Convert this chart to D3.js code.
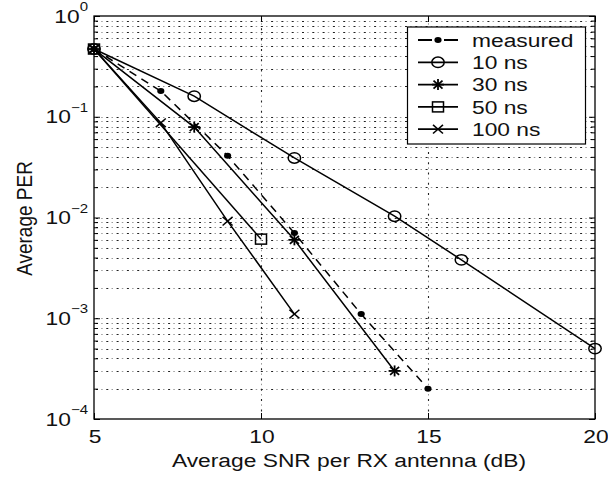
<!DOCTYPE html>
<html>
<head>
<meta charset="utf-8">
<script src="https://cdn.jsdelivr.net/npm/d3@7"></script>
<style>
  html, body { margin: 0; padding: 0; background: #fff; }
  svg { display: block; }
  text { font-family: "Liberation Sans", Arial, Helvetica, sans-serif; fill: #111; }
</style>
</head>
<body>
<svg id="chart" width="608" height="481"></svg>
<script>
// Packet error rate vs. per-antenna SNR, measured and simulated (delay spreads)
const snrTicks = [5, 10, 15, 20];
const perTickExponents = [-4, -3, -2, -1, 0];
const seriesNames = ["measured", "10 ns", "30 ns", "50 ns", "100 ns"];

const measuredSNR = [5, 7, 9, 11, 13, 15];
const measuredPER = [0.47, 0.18, 0.041, 0.0070, 0.0011, 0.0002];
const snr10ns = [5, 8, 11, 14, 16, 20];
const per10ns = [0.47, 0.16, 0.039, 0.0103, 0.0038, 0.0005];
const snr30ns = [5, 8, 11, 14];
const per30ns = [0.47, 0.079, 0.006, 0.0003];
const snr50ns = [5, 10];
const per50ns = [0.47, 0.0061];
const snr100ns = [5, 7, 9, 11];
const per100ns = [0.47, 0.087, 0.0092, 0.0011];

const series = [
  { name: seriesNames[0], snr: measuredSNR, per: measuredPER, marker: "dot", dashed: true },
  { name: seriesNames[1], snr: snr10ns, per: per10ns, marker: "circle" },
  { name: seriesNames[2], snr: snr30ns, per: per30ns, marker: "star" },
  { name: seriesNames[3], snr: snr50ns, per: per50ns, marker: "square" },
  { name: seriesNames[4], snr: snr100ns, per: per100ns, marker: "cross" }
];

const FS = 19;        // base font size
const SX = 1.2;       // horizontal glyph stretch
const L = 94, R = 595, T = 16, B = 419;

const svg = d3.select("#chart");
const x = d3.scaleLinear().domain([5, 20]).range([L, R]);
const y = d3.scaleLog().domain([1e-4, 1]).range([B, T]);

// dotted grid: dark dots with fainter ones in between
const minorVals = [];
for (let e = -4; e < 0; e++) for (let m = 1; m <= 9; m++) {
  const v = m * Math.pow(10, e);
  if (v > 1e-4 && v < 1) minorVals.push(v);
}
const vGrid = snrTicks.filter(d => d > 5 && d < 20);
function gridLayer(color, dash, offset, width) {
  const g = svg.append("g").attr("stroke", color).attr("stroke-width", width)
    .attr("stroke-dasharray", dash).attr("stroke-dashoffset", offset).attr("fill", "none");
  g.selectAll("line.h").data(minorVals).join("line").attr("class", "h")
    .attr("x1", L).attr("x2", R)
    .attr("y1", d => Math.round(y(d)) + 0.5).attr("y2", d => Math.round(y(d)) + 0.5);
  g.selectAll("line.v").data(vGrid).join("line").attr("class", "v")
    .attr("y1", T).attr("y2", B)
    .attr("x1", d => Math.round(x(d)) + 0.5).attr("x2", d => Math.round(x(d)) + 0.5);
}
gridLayer("#222", "2,8.3", -2, 1.1);
gridLayer("#9a9a9a", "1.5,8.8", -7.2, 1);

// inward ticks on all four sides
const majorY = perTickExponents.map(e => Math.pow(10, e));
function tickAxis(gen, tx, ty) {
  const g = svg.append("g").attr("transform", `translate(${tx},${ty})`).call(gen);
  g.select(".domain").remove();
  g.selectAll("text").remove();
  g.selectAll("line").attr("stroke", "#000").attr("stroke-width", 1);
}
tickAxis(d3.axisLeft(y).tickValues(minorVals.filter(v => !majorY.includes(v))).tickSize(-4), L, 0);
tickAxis(d3.axisLeft(y).tickValues(majorY).tickSize(-6), L, 0);
tickAxis(d3.axisRight(y).tickValues(minorVals.filter(v => !majorY.includes(v))).tickSize(-4), R, 0);
tickAxis(d3.axisRight(y).tickValues(majorY).tickSize(-6), R, 0);
tickAxis(d3.axisBottom(x).tickValues(snrTicks).tickSize(-6), 0, B);
tickAxis(d3.axisTop(x).tickValues(snrTicks).tickSize(-6), 0, T);

// series lines
const line = d3.line().x(d => x(d[0])).y(d => y(d[1]));
const plot = svg.append("g");
series.forEach(s => {
  plot.append("path")
    .datum(s.snr.map((v, i) => [v, s.per[i]]))
    .attr("d", line)
    .attr("fill", "none").attr("stroke", "#000").attr("stroke-width", 1.5)
    .attr("stroke-dasharray", s.dashed ? "8,6" : null);
});

// marker shapes
function drawMarker(g, type, cx, cy) {
  const m = g.append("g").attr("transform", `translate(${cx},${cy})`)
    .attr("stroke", "#000").attr("fill", "none").attr("stroke-width", 1.5);
  if (type === "dot") {
    m.append("ellipse").attr("rx", 3.6).attr("ry", 3).attr("fill", "#000").attr("stroke", "none");
  } else if (type === "circle") {
    m.append("ellipse").attr("rx", 6.2).attr("ry", 5.2).attr("fill", "none");
  } else if (type === "square") {
    m.append("rect").attr("x", -5.5).attr("y", -5).attr("width", 11).attr("height", 10);
  } else if (type === "star") {
    m.attr("stroke-width", 1.8);
    [[0, -5.5, 0, 5.5], [-6, 0, 6, 0], [-4.5, -4, 4.5, 4], [-4.5, 4, 4.5, -4]].forEach(p =>
      m.append("line").attr("x1", p[0]).attr("y1", p[1]).attr("x2", p[2]).attr("y2", p[3]));
  } else if (type === "cross") {
    [[-5, -4.3, 5, 4.3], [-5, 4.3, 5, -4.3]].forEach(p =>
      m.append("line").attr("x1", p[0]).attr("y1", p[1]).attr("x2", p[2]).attr("y2", p[3]));
  }
}
series.forEach(s => {
  s.snr.forEach((v, i) => drawMarker(plot, s.marker, x(v), y(s.per[i])));
});

// axes box
svg.append("rect").attr("x", L).attr("y", T).attr("width", R - L).attr("height", B - T)
  .attr("fill", "none").attr("stroke", "#000").attr("stroke-width", 1.3);

// stretched text helper
function label(txt, tx, ty, anchor, size, extra) {
  return svg.append("text")
    .attr("transform", `translate(${tx},${ty}) scale(${SX},1)` + (extra || ""))
    .attr("text-anchor", anchor).attr("font-size", size).text(txt);
}

// x tick labels
snrTicks.forEach(v => label(String(v), x(v) + 1, B + 24, "middle", FS));

// y tick labels: 10 with superscript exponent
perTickExponents.forEach(e => {
  const t = svg.append("text")
    .attr("transform", `translate(88,${y(Math.pow(10, e)) + 6.5}) scale(${SX},1)`)
    .attr("text-anchor", "end").attr("font-size", FS);
  t.append("tspan").text("10");
  t.append("tspan").attr("dy", -11.5).attr("font-size", 12.5)
    .text(e < 0 ? "\u2212" + Math.abs(e) : String(e));
});

// axis titles
label("Average SNR per RX antenna (dB)", 349, 467, "middle", FS);
label("Average PER", 32, (T + B) / 2 + 1, "middle", FS, " rotate(-90)");

// legend
const lg = svg.append("g");
lg.append("rect").attr("x", 407.5).attr("y", 27).attr("width", 178).attr("height", 117)
  .attr("fill", "#fff").attr("stroke", "#000").attr("stroke-width", 1.2);
series.forEach((s, i) => {
  const ly = 40 + i * 22.3;
  lg.append("line").attr("x1", 418).attr("x2", 458).attr("y1", ly).attr("y2", ly)
    .attr("stroke", "#000").attr("stroke-width", 1.8)
    .attr("stroke-dasharray", s.dashed ? "14,12,14" : null);
  drawMarker(lg, s.marker, 438, ly);
  label(s.name, 472, ly + 6.8, "start", FS);
});
</script>
</body>
</html>
